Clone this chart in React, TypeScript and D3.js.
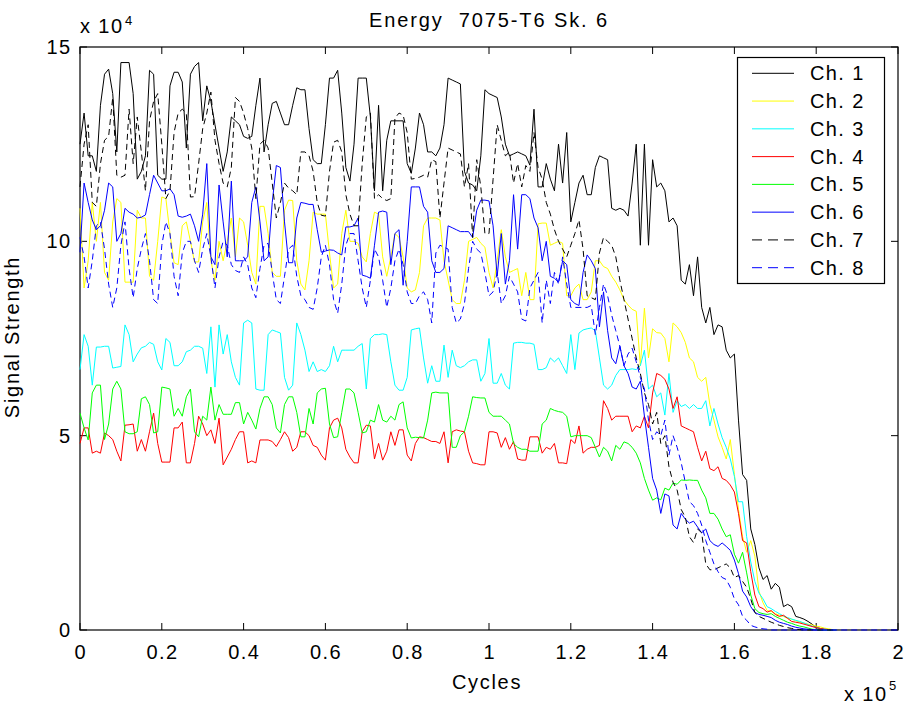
import React from "react";
import * as d3 from "d3";

// ---- data (signal strength in units of 10^4, one sample every CYCLE_STEP cycles) ----
const CYCLE_STEP = 1000;
const CHANNELS = ["Ch. 1", "Ch. 2", "Ch. 3", "Ch. 4", "Ch. 5", "Ch. 6", "Ch. 7", "Ch. 8"];
const COLORS = ["#000000", "#ffff00", "#00ffff", "#ff0000", "#00ff00", "#0000ff", "#000000", "#0000ff"];
const DASHED = [false, false, false, false, false, false, true, true];
const X_TICKS = [0, 0.2, 0.4, 0.6, 0.8, 1, 1.2, 1.4, 1.6, 1.8, 2]; // x 10^5
const Y_TICKS = [0, 5, 10, 15]; // x 10^4

const CH1 = [
  12.5, 13.3, 12.2, 12.2, 11.8, 13.5, 14.3, 14.43, 13.8, 12.3,
  14.6, 14.6, 14.6, 13.8, 11.6, 11.8, 12.2, 14.4, 14.3, 11.7,
  11.6, 11.6, 14.0, 14.35, 14.35, 14.1, 12.4, 14.3, 14.5, 14.6,
  13.1, 14.0, 13.6, 13.0, 12.4, 11.8, 12.3, 13.2, 13.1, 13.0,
  12.7, 12.65, 12.7, 13.5, 14.2, 12.3, 13.0, 13.55, 13.6, 13.3,
  13.0, 13.0, 13.5, 13.95, 13.9, 13.9, 12.9, 12.1, 12.0, 12.0,
  13.0, 14.2, 14.2, 14.4, 13.3, 11.9, 11.55, 12.5, 14.2, 14.2,
  14.2, 13.2, 11.3, 13.5, 11.3, 12.6, 13.1, 13.1, 13.1, 13.1,
  12.0, 11.75, 12.4, 13.3, 13.0, 12.3, 12.3, 12.2, 12.4, 13.0,
  14.2, 14.15, 14.1, 14.05, 11.8, 11.5, 11.45, 11.3, 12.2, 13.9,
  13.8, 13.75, 13.7, 13.2, 12.5, 12.2, 12.25, 12.3, 12.25, 12.2,
  11.96, 13.4, 11.4, 11.4, 12.0, 11.6, 11.3, 12.5, 11.5, 12.8,
  10.5, 11.0, 11.5, 11.7, 11.2, 11.2, 11.9, 12.2, 12.15, 12.1,
  10.85, 10.8, 10.85, 10.8, 10.65, 11.5, 12.5, 9.9, 12.5, 9.9,
  12.1, 11.4, 11.5, 11.3, 10.5, 10.6, 10.4, 9.0, 8.9, 9.4,
  8.6, 9.6, 8.3, 7.9, 8.3, 7.6, 7.85, 7.8, 7.2, 7.0,
  7.1, 5.4, 4.0, 3.85, 2.6, 2.2, 1.6, 1.3, 1.4, 1.05,
  1.2, 1.1, 0.6, 0.66, 0.6, 0.35, 0.32, 0.28, 0.22, 0.15,
  0.06, 0.04, 0.02, 0.01, 0, 0,
];

const CH2 = [
  10.85, 8.8, 9.5, 11.0, 10.0, 11.0, 9.2, 9.0, 10.5, 11.1,
  11.0, 8.95, 8.95, 8.95, 10.8, 10.6, 10.6, 9.1, 9.0, 10.0,
  11.14, 11.1, 10.2, 9.45, 9.4, 10.4, 10.5, 10.0, 9.47, 9.47,
  10.5, 11.0, 9.5, 9.0, 10.0, 9.5, 10.0, 10.6, 9.6, 10.6,
  10.5, 9.9, 9.2, 8.9, 10.9, 10.9, 10.2, 9.2, 9.1, 9.1,
  10.8, 11.06, 11.05, 9.5, 8.9, 8.75, 9.5, 10.75, 10.7, 10.7,
  10.7, 9.7, 8.8, 8.9, 10.2, 10.8, 10.0, 10.0, 9.95, 9.6,
  9.47, 10.2, 10.75, 10.7, 9.6, 9.1, 9.6, 10.2, 10.1, 9.6,
  8.8, 8.7, 8.75, 9.2, 10.4, 10.6, 10.6, 10.6, 10.55, 9.5,
  9.0, 8.5, 8.4, 8.4, 9.0, 10.0, 10.05, 10.1, 9.95, 9.85,
  9.2, 8.8, 9.5, 10.3, 9.6, 9.2, 9.25, 9.3, 8.6, 9.2,
  8.5, 8.5, 10.45, 10.47, 10.47, 9.9, 9.95, 10.0, 9.95, 8.6,
  8.6, 8.8, 8.9, 8.5, 8.5, 8.7, 9.5, 9.5, 9.35, 9.3,
  9.1, 8.95, 8.75, 8.5, 8.36, 8.25, 8.2, 6.8, 8.28, 7.0,
  7.75, 7.65, 7.64, 7.5, 6.9, 7.9, 7.8, 7.65, 7.4, 7.0,
  6.9, 6.5, 6.4, 6.5, 5.8, 5.4, 4.97, 4.7, 4.4, 4.9,
  4.0, 3.1, 2.4, 2.0, 2.3, 1.9, 1.0, 0.7, 0.5, 0.48,
  0.42, 0.38, 0.35, 0.3, 0.28, 0.24, 0.2, 0.18, 0.15, 0.13,
  0.1, 0.08, 0.05, 0.03, 0.01, 0,
];

const CH3 = [
  6.7, 7.6, 7.3, 6.3, 7.28, 7.28, 7.3, 7.3, 6.74, 6.76,
  6.78, 7.85, 7.6, 6.9, 7.1, 7.26, 7.3, 7.4, 7.35, 6.9,
  6.69, 7.5, 7.4, 6.8, 6.8, 6.9, 7.16, 7.2, 7.3, 7.3,
  7.25, 6.6, 7.8, 6.25, 7.85, 7.1, 7.6, 6.9, 6.5, 6.3,
  7.9, 7.97, 7.9, 6.2, 6.17, 6.17, 7.6, 7.72, 7.68, 7.64,
  6.5, 6.17, 6.3, 7.9, 7.6, 7.2, 6.65, 6.9, 6.65, 6.7,
  6.65, 6.8, 7.3, 6.9, 7.2, 7.2, 7.2, 7.2, 7.3, 7.37,
  6.2, 7.5, 7.6, 7.6, 7.62, 7.6, 6.9, 6.3, 6.17, 6.17,
  6.5, 7.72, 7.75, 7.77, 7.0, 6.35, 6.8, 6.4, 6.4, 7.33,
  6.5, 7.2, 6.8, 6.75, 6.8, 6.9, 6.95, 6.95, 6.4, 6.6,
  7.5, 6.35, 6.35, 6.6, 6.3, 6.2, 7.38, 7.4, 7.4, 7.38,
  7.38, 7.35, 6.7, 6.7, 6.75, 7.0, 6.9, 7.0, 6.8, 6.6,
  7.6, 6.7, 7.64, 7.72, 7.75, 7.77, 7.7, 7.0, 6.3, 6.2,
  6.3, 6.55, 6.7, 6.7, 6.7, 6.72, 6.7, 6.8, 7.2, 6.2,
  6.3, 6.0, 6.1, 5.53, 6.6, 5.6, 5.9, 5.75, 5.8, 5.7,
  5.8, 5.7, 5.7, 5.9, 5.25, 5.7, 5.3, 4.95, 4.7, 4.4,
  3.95, 3.3, 3.3, 2.4, 1.75, 1.25, 0.95, 0.8, 0.6, 0.55,
  0.48, 0.42, 0.36, 0.32, 0.28, 0.25, 0.22, 0.18, 0.14, 0.1,
  0.06, 0.04, 0.02, 0.01, 0, 0,
];

const CH4 = [
  4.8, 5.2, 5.2, 4.55, 4.6, 4.55, 5.07, 5.0, 4.9, 4.6,
  4.35, 5.27, 5.28, 5.3, 4.6, 4.9, 4.6, 5.1, 5.58, 4.8,
  4.32, 4.32, 4.32, 5.2, 5.2, 5.35, 4.3, 4.3, 4.8, 5.5,
  5.3, 5.0, 5.15, 4.8, 5.45, 4.25, 4.45, 4.65, 4.9, 5.1,
  5.1, 4.3, 4.35, 4.3, 4.89, 4.89, 4.89, 4.85, 4.72, 4.9,
  5.1, 4.95, 4.6, 4.7, 5.1, 5.1, 5.0, 4.75, 4.7, 4.5,
  4.37, 5.2, 5.4, 5.45, 5.2, 4.65, 4.45, 4.3, 4.3, 5.1,
  5.27, 5.25, 4.4, 4.8, 4.37, 4.6, 5.1, 4.75, 5.15, 5.15,
  4.5, 4.35, 4.8, 4.97, 4.95, 4.9, 4.85, 4.85, 4.8, 5.1,
  4.3, 5.1, 5.15, 5.12, 5.1, 4.6, 4.3, 4.28, 4.25, 4.25,
  5.1, 5.1, 5.07, 4.7, 4.95, 4.65, 4.85, 4.4, 4.37, 4.37,
  4.97, 4.97, 4.97, 4.55, 4.7, 4.65, 4.8, 4.3, 4.3, 4.28,
  4.9, 4.8, 5.25, 4.55, 4.65, 4.7, 4.7, 4.75, 5.9, 5.7,
  5.4, 5.5, 5.5, 5.5, 5.5, 5.1, 5.25, 5.2, 5.5, 5.2,
  6.1, 6.6, 6.55, 6.45, 6.2, 5.7, 6.0, 5.25, 5.2, 5.15,
  5.1, 4.7, 4.35, 4.6, 4.15, 4.1, 4.2, 3.9, 3.85, 3.73,
  3.55, 3.0, 2.3, 2.24, 1.5, 0.9, 0.6, 0.55, 0.46, 0.5,
  0.4, 0.35, 0.38, 0.3, 0.22, 0.2, 0.18, 0.15, 0.12, 0.09,
  0.06, 0.04, 0.02, 0.01, 0, 0,
];

const CH5 = [
  5.58, 5.2, 4.89, 6.1, 6.3, 6.3, 4.9, 5.3, 6.2, 6.4,
  6.2, 5.1, 5.05, 5.05, 5.1, 5.95, 6.0, 5.8, 5.07, 5.1,
  6.25, 6.23, 6.2, 5.5, 5.7, 5.5, 6.0, 6.2, 5.1, 4.97,
  5.5, 5.4, 6.25, 5.4, 5.8, 5.55, 5.55, 5.55, 5.85, 5.85,
  5.3, 5.6, 5.4, 5.17, 5.7, 6.0, 6.0, 5.8, 5.2, 5.07,
  5.8, 6.0, 6.0, 5.6, 4.97, 4.97, 5.7, 5.3, 6.1, 6.2,
  6.22, 5.3, 4.95, 4.97, 5.6, 6.2, 6.2, 6.1, 5.6, 5.07,
  5.1, 5.4, 5.35, 5.8, 5.4, 5.35, 5.5, 5.4, 5.8, 5.87,
  5.2, 4.94, 4.96, 4.95, 4.94, 5.4, 6.1, 6.12, 6.1, 6.1,
  6.1, 4.7, 4.7, 5.0, 5.1, 5.5, 6.0, 5.98, 5.97, 5.97,
  5.6, 5.5, 5.5, 5.5, 5.4, 5.3, 4.8, 4.7, 4.65, 4.65,
  4.6, 4.6, 4.6, 5.3, 5.4, 5.7, 5.65, 5.62, 5.6, 5.5,
  4.97, 5.0, 5.0, 5.0, 5.0, 4.95, 4.7, 4.45, 4.7, 4.6,
  4.35, 4.75, 4.65, 4.84, 4.8, 4.7, 4.55, 4.3, 3.9, 3.6,
  3.34, 3.4, 3.35, 3.65, 3.6, 3.78, 3.75, 3.86, 3.85, 3.86,
  3.85, 3.85, 3.6, 3.4, 3.0, 3.0, 2.85, 2.6, 2.4, 2.45,
  1.95, 1.72, 2.0, 1.47, 0.9, 0.55, 0.45, 0.42, 0.4, 0.42,
  0.35, 0.3, 0.25, 0.2, 0.17, 0.13, 0.1, 0.08, 0.05, 0.02,
  0.01, 0, 0, 0, 0, 0,
];

const CH6 = [
  9.72, 11.5, 11.0, 10.55, 10.3, 10.4, 10.8, 11.5, 11.4, 10.0,
  10.2, 10.85, 10.75, 10.7, 10.6, 10.62, 10.68, 11.2, 11.7, 11.5,
  11.3, 11.3, 11.35, 11.2, 10.65, 10.62, 10.65, 10.7, 10.4, 10.0,
  10.7, 12.0, 9.6, 9.4, 11.45, 10.5, 9.6, 11.55, 9.5, 9.5,
  9.5, 9.6, 11.0, 11.4, 10.5, 9.5, 9.6, 11.0, 11.95, 11.9,
  10.5, 9.45, 9.45, 10.6, 11.0, 10.98, 10.95, 10.95, 10.3, 9.72,
  9.75, 9.78, 9.77, 9.7, 9.65, 10.37, 10.37, 10.4, 10.6, 9.13,
  9.1, 9.05, 9.9, 10.75, 10.78, 10.75, 9.4, 10.2, 10.3, 8.87,
  10.0, 11.4, 11.4, 11.4, 10.9, 10.75, 9.5, 9.2, 9.2, 9.3,
  10.4, 10.35, 10.3, 10.25, 10.25, 10.25, 10.1, 10.8, 11.06, 11.06,
  11.04, 10.4, 9.1, 10.2, 8.9, 9.5, 11.2, 9.8, 11.2, 11.2,
  11.1, 10.6, 10.35, 9.5, 10.0, 9.1, 9.05, 8.95, 9.5, 9.4,
  8.5, 8.4, 8.35, 9.2, 9.65, 9.5, 9.3, 7.8, 8.7, 7.7,
  7.0, 6.85, 7.3, 6.8, 6.6, 6.25, 6.2, 6.4, 5.5, 4.7,
  3.9, 3.6, 3.0, 3.5, 3.45, 2.7, 2.6, 3.0, 2.85, 2.75,
  2.8, 2.65, 2.5, 2.6, 2.3, 2.2, 2.15, 2.24, 2.15, 2.05,
  1.8, 1.45, 1.0, 0.85, 0.6, 0.45, 0.4, 0.38, 0.35, 0.32,
  0.25, 0.2, 0.17, 0.14, 0.1, 0.07, 0.05, 0.03, 0.02, 0.01,
  0, 0, 0, 0, 0, 0,
];

const CH7 = [
  11.4, 12.5, 13.0, 11.0, 10.9, 12.0, 12.6, 12.7, 13.7, 11.7,
  11.65, 11.7, 13.4, 12.0, 13.2, 12.3, 11.3, 13.1, 13.6, 13.8,
  12.5, 11.1, 11.3, 12.8, 13.3, 13.4, 13.3, 11.14, 11.15, 12.0,
  12.9, 13.3, 13.84, 12.6, 12.0, 11.5, 11.4, 11.9, 13.7, 13.6,
  13.3, 12.9, 12.4, 11.1, 12.5, 12.6, 12.4, 11.5, 10.6, 11.0,
  11.5, 11.37, 11.3, 11.2, 12.3, 12.3, 12.2, 11.8, 11.0, 10.67,
  10.65, 11.8, 12.55, 12.6, 12.3, 11.2, 10.7, 10.4, 10.4, 12.0,
  13.2, 13.3, 11.1, 11.2, 11.1, 11.05, 11.1, 13.17, 13.3, 13.25,
  12.8, 11.6, 11.62, 11.65, 11.7, 11.65, 12.1, 12.05, 10.6, 11.5,
  12.4, 12.35, 12.3, 12.25, 11.4, 12.0, 10.1, 12.1, 11.4, 10.2,
  10.2, 11.6, 13.0, 12.6, 12.2, 12.3, 11.5, 12.0, 11.4, 11.95,
  11.8, 12.8, 11.9, 11.6, 11.0, 10.7, 10.3, 10.0, 9.8, 9.6,
  9.9, 10.2, 10.55, 9.8, 8.6, 8.55, 8.5, 9.7, 10.1, 10.0,
  9.9, 9.6, 9.0, 8.5, 8.0, 7.5, 7.0, 6.6, 6.1, 5.8,
  5.3, 5.6, 4.8, 5.0, 4.2, 3.8, 3.6, 3.1, 2.9, 2.4,
  2.25, 2.6, 2.5, 1.7, 1.55, 1.55, 1.6, 1.65, 1.7, 1.6,
  1.35, 1.4, 1.25, 1.1, 0.8, 0.45, 0.35, 0.3, 0.25, 0.2,
  0.16, 0.12, 0.09, 0.06, 0.04, 0.02, 0.01, 0, 0, 0,
  0, 0, 0, 0, 0, 0,
];

const CH8 = [
  10.1, 9.6, 8.8, 9.5, 10.4, 10.5, 9.8, 8.9, 8.3, 8.8,
  9.9, 10.5, 9.3, 8.55, 9.3, 9.8, 10.2, 9.5, 8.5, 8.4,
  9.9, 10.5, 10.2, 9.1, 8.6, 9.7, 10.0, 10.0, 9.5, 9.2,
  9.8, 10.2, 9.6, 8.8, 9.6, 10.0, 9.9, 9.4, 9.25, 9.2,
  9.6, 9.4, 8.8, 8.55, 9.3, 9.9, 9.95, 9.2, 8.5, 8.4,
  9.1, 9.8, 9.9, 9.1, 8.6, 8.5, 8.3, 8.25, 8.8, 9.6,
  9.9, 9.4, 8.5, 8.15, 8.9, 9.9, 10.2, 10.2, 9.5, 8.8,
  8.3, 9.0, 9.8, 9.6, 9.0, 8.3, 8.8, 9.5, 9.8, 9.4,
  8.7, 8.4, 8.4, 8.6, 8.7, 8.5, 7.9, 9.7, 9.9, 9.85,
  9.8, 8.3, 7.9, 8.0, 8.4, 9.3, 10.0, 9.8, 9.7, 9.2,
  8.6, 8.7, 9.2, 8.4, 8.6, 9.1, 8.9, 8.7, 8.0, 7.95,
  8.8, 9.0, 9.2, 7.9, 9.0, 8.4, 9.2, 8.9, 9.6, 8.9,
  8.3, 8.3, 8.3, 8.3, 8.3, 8.35, 7.6, 8.3, 8.9, 8.6,
  8.1, 7.7, 7.3, 6.8, 7.1, 7.25, 6.9, 6.5, 6.2, 5.4,
  4.9, 5.1, 5.0, 5.4, 4.5, 5.0, 4.7, 4.3, 3.8, 3.3,
  3.2, 3.0, 2.7, 2.3, 2.0, 1.7, 1.5, 1.35, 1.3, 1.1,
  0.8, 0.65, 0.35, 0.25, 0.12, 0.08, 0.05, 0.03, 0.02, 0,
  0, 0, 0, 0, 0, 0, 0, 0, 0, 0,
  0, 0, 0, 0, 0, 0, 0, 0, 0, 0,
  0, 0, 0, 0, 0, 0, 0, 0, 0, 0,
  0,
];

const SERIES = [CH1, CH2, CH3, CH4, CH5, CH6, CH7, CH8];

// ---- layout ----
const W = 909;
const H = 707;
const L = 80;
const R = 898;
const T = 47;
const B = 630;
const FONT = "'Liberation Sans', Arial, Helvetica, sans-serif";
const FS = 20;
const LS = 1.4;

export default function App() {
  const x = d3.scaleLinear().domain([0, 200000]).range([L, R]);
  const y = d3.scaleLinear().domain([0, 15]).range([B, T]);
  const line = d3
    .line<[number, number]>()
    .x((d) => x(d[0]))
    .y((d) => y(d[1]));

  const tickLen = 7;

  return (
    <svg
      width={W}
      height={H}
      style={{ position: "absolute", left: 0, top: 0, background: "#fff" }}
      fontFamily={FONT}
    >
      <rect x={0} y={0} width={W} height={H} fill="#fff" />

      {/* title */}
      <text
        x={(L + R) / 2}
        y={27}
        textAnchor="middle"
        fontSize={FS}
        letterSpacing={1.9}
        style={{ whiteSpace: "pre" }}
      >
        {"Energy  7075-T6 Sk. 6"}
      </text>

      {/* axes box */}
      <rect x={L} y={T} width={R - L} height={B - T} fill="none" stroke="#000" strokeWidth={1.2} />

      {/* x ticks */}
      {X_TICKS.map((t) => {
        const px = x(t * 100000);
        return (
          <g key={"xt" + t}>
            <line x1={px} x2={px} y1={B} y2={B - tickLen} stroke="#000" strokeWidth={1} />
            <line x1={px} x2={px} y1={T} y2={T + tickLen} stroke="#000" strokeWidth={1} />
            <text x={px + LS / 2} y={659} textAnchor="middle" fontSize={FS} letterSpacing={LS}>
              {String(t)}
            </text>
          </g>
        );
      })}

      {/* y ticks */}
      {Y_TICKS.map((t) => {
        const py = y(t);
        return (
          <g key={"yt" + t}>
            <line x1={L} x2={L + tickLen} y1={py} y2={py} stroke="#000" strokeWidth={1} />
            <line x1={R} x2={R - tickLen} y1={py} y2={py} stroke="#000" strokeWidth={1} />
            <text x={71.5} y={py + 7} textAnchor="end" fontSize={FS} letterSpacing={LS}>
              {String(t)}
            </text>
          </g>
        );
      })}

      {/* exponent labels */}
      <text x={80} y={33} fontSize={FS} letterSpacing={LS} style={{ whiteSpace: "pre" }}>
        {"x 10"}
      </text>
      <text x={125} y={25} fontSize={13}>
        4
      </text>
      <text x={844} y={701} fontSize={FS} letterSpacing={LS} style={{ whiteSpace: "pre" }}>
        {"x 10"}
      </text>
      <text x={889} y={690} fontSize={13}>
        5
      </text>

      {/* axis labels */}
      <text x={487} y={689} textAnchor="middle" fontSize={FS} letterSpacing={LS + 0.3}>
        Cycles
      </text>
      <text
        transform="translate(19,337) rotate(-90)"
        textAnchor="middle"
        fontSize={FS}
        letterSpacing={LS + 0.3}
      >
        Signal Strength
      </text>

      {/* series */}
      {SERIES.map((vals, k) => {
        const pts: [number, number][] = vals.map((v, i) => [i * CYCLE_STEP, v]);
        return (
          <path
            key={"s" + k}
            d={line(pts) || ""}
            fill="none"
            stroke={COLORS[k]}
            strokeWidth={1}
            strokeDasharray={DASHED[k] ? "6,4" : undefined}
            strokeLinejoin="miter"
          />
        );
      })}

      {/* legend */}
      <g>
        <rect x={737.5} y={57.5} width={147} height={226} fill="#fff" stroke="#000" strokeWidth={1.2} />
        {CHANNELS.map((name, k) => {
          const ly = 73.3 + k * 27.77;
          return (
            <g key={"lg" + k}>
              <line
                x1={752}
                x2={794}
                y1={ly}
                y2={ly}
                stroke={COLORS[k]}
                strokeWidth={1}
                strokeDasharray={DASHED[k] ? "10,6" : undefined}
              />
              <text x={810} y={ly + 7} fontSize={FS} letterSpacing={LS} style={{ whiteSpace: "pre" }}>
                {name}
              </text>
            </g>
          );
        })}
      </g>
    </svg>
  );
}
